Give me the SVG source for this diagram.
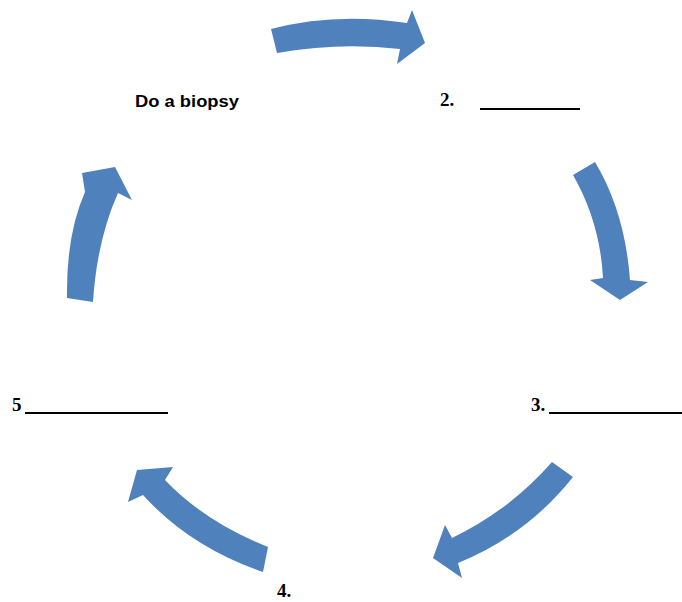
<svg xmlns="http://www.w3.org/2000/svg" width="682" height="602" viewBox="0 0 682 602">
  <style>
    .arrow { fill: #4f81bd; }
    .lbl { font-family: "Liberation Serif", "Times New Roman", serif; font-weight: bold; font-size: 19px; fill: #000; }
    .step { font-family: "Liberation Sans", Arial, sans-serif; font-weight: bold; font-size: 17px; fill: #000; }
    .blank { stroke: #000; stroke-width: 2; }
  </style>
  <rect width="682" height="602" fill="#fff"/>

  <!-- curved arrows of the cycle -->
  <g id="connectors">
    <path class="arrow" d="M271,29 Q335,12 407,23 L412,10 L425,43 L397,64 L400,49 Q340,42 277,53 Z"/>
    <path class="arrow" d="M573,175 L595,162 Q625,212 630,280 L648,282 L620,300 L590,280 L603,278 Q600,222 573,175 Z"/>
    <path class="arrow" d="M552,462 Q510,510 452,538 L445,525 L433,558 L462,578 L458,563 Q527,535 573,477 Z"/>
    <path class="arrow" d="M268,547 Q205,522 165,480 L173,467 L137,470 L128,502 L143,495 Q190,547 263,572 Z"/>
    <path class="arrow" d="M67,298 Q66,235 85,192 L82,173 L115,167 L132,200 L118,193 Q97,240 93,302 Z"/>
  </g>

  <g id="step1">
    <text class="step" x="135" y="107" textLength="104" lengthAdjust="spacingAndGlyphs">Do a biopsy</text>
  </g>
  <g id="step2">
    <text class="lbl" x="440" y="106">2.</text>
    <line class="blank" x1="480" y1="109" x2="580" y2="109"/>
  </g>
  <g id="step3">
    <text class="lbl" x="531" y="411">3.</text>
    <line class="blank" x1="549" y1="413" x2="682" y2="413"/>
  </g>
  <g id="step4">
    <text class="lbl" x="277" y="597">4.</text>
  </g>
  <g id="step5">
    <text class="lbl" x="12" y="411">5</text>
    <line class="blank" x1="25" y1="413" x2="168" y2="413"/>
  </g>
</svg>
